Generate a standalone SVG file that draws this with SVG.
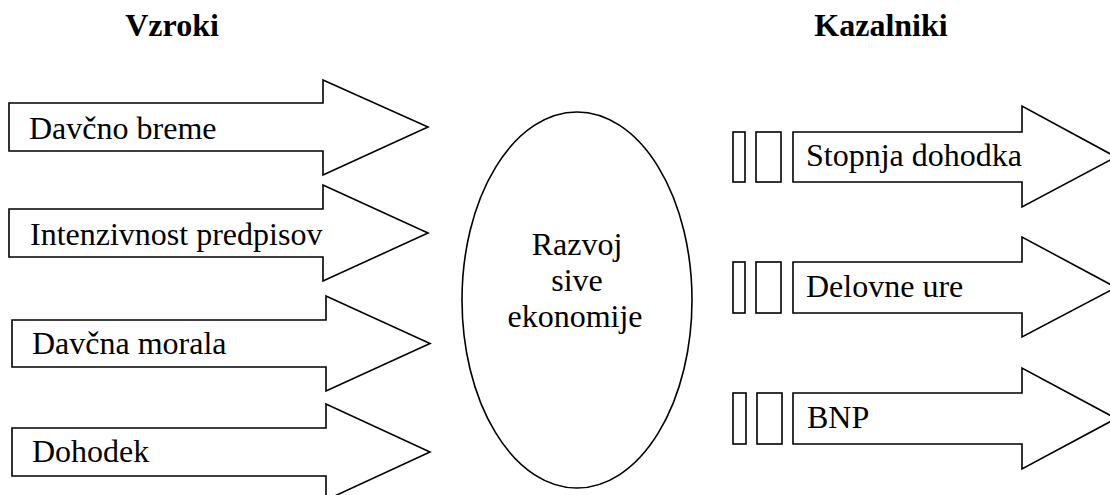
<svg xmlns="http://www.w3.org/2000/svg" width="1110" height="495" viewBox="0 0 1110 495">
<rect width="1110" height="495" fill="#fff"/>
<g id="connectors" fill="#fff" stroke="#000" stroke-width="1.6">
<polygon id="cause1-arrow" points="9,103 323,103 323,80 428,127 323,175 323,151 9,151"/>
<polygon id="cause2-arrow" points="9,209 323,209 323,185 428,233 323,281 323,257 9,257"/>
<polygon id="cause3-arrow" points="12,320 326,320 326,296 430,343.5 326,391 326,367 12,367"/>
<polygon id="cause4-arrow" points="12,428 326,428 326,404 430,452 326,500 326,476 12,476"/>
<rect x="733" y="132" width="12" height="50"/>
<rect x="756" y="132" width="25" height="50"/>
<polygon id="ind1-arrow" points="793,132 1022,132 1022,106 1116,157 1022,207 1022,182 793,182"/>
<rect x="733" y="262" width="12" height="51"/>
<rect x="756" y="262" width="25" height="51"/>
<polygon id="ind2-arrow" points="793,262 1022,262 1022,237 1116,287.5 1022,337 1022,313 793,313"/>
<rect x="733" y="393" width="13" height="51"/>
<rect x="757" y="393" width="25" height="51"/>
<polygon id="ind3-arrow" points="793,393 1022,393 1022,368 1116,418.5 1022,469 1022,444 793,444"/>
</g>
<g id="cause1"><text x="29" y="139" font-size="32" font-family="Times New Roman, Liberation Serif, serif">Davčno breme</text></g>
<g id="cause2"><text x="30" y="245" font-size="32" font-family="Times New Roman, Liberation Serif, serif">Intenzivnost predpisov</text></g>
<g id="cause3"><text x="32" y="354" font-size="32" font-family="Times New Roman, Liberation Serif, serif">Davčna morala</text></g>
<g id="cause4"><text x="32" y="462" font-size="32" font-family="Times New Roman, Liberation Serif, serif">Dohodek</text></g>
<g id="ind1"><text x="806" y="166" font-size="32" font-family="Times New Roman, Liberation Serif, serif">Stopnja dohodka</text></g>
<g id="ind2"><text x="806" y="297" font-size="32" font-family="Times New Roman, Liberation Serif, serif">Delovne ure</text></g>
<g id="ind3"><text x="807" y="428" font-size="32" font-family="Times New Roman, Liberation Serif, serif">BNP</text></g>
<g id="center">
<ellipse cx="577" cy="300" rx="115" ry="188" fill="#fff" stroke="#000" stroke-width="1.6"/>
<text x="577" y="255" font-size="32" font-family="Times New Roman, Liberation Serif, serif" text-anchor="middle">Razvoj</text>
<text x="577" y="291" font-size="32" font-family="Times New Roman, Liberation Serif, serif" text-anchor="middle">sive</text>
<text x="575" y="327" font-size="32" font-family="Times New Roman, Liberation Serif, serif" text-anchor="middle">ekonomije</text>
</g>
<g id="titles">
<text x="172" y="36" font-size="32" font-family="Liberation Serif" font-weight="bold" text-anchor="middle">Vzroki</text>
<text x="881" y="36" font-size="32" font-family="Liberation Serif" font-weight="bold" text-anchor="middle">Kazalniki</text>
</g>
</svg>
